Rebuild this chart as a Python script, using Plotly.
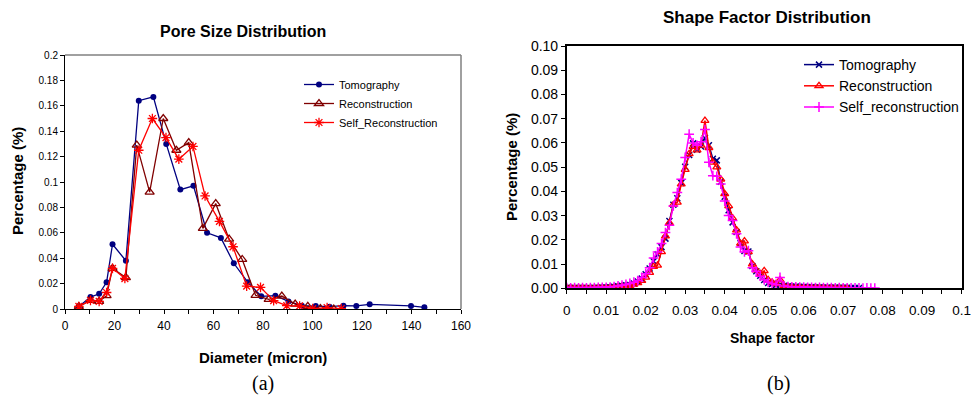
import plotly.graph_objects as go

# ---------------- Left chart: Pore Size Distribution ----------------
tomo_d = [5.6, 10.3, 13.8, 16.8, 19.2, 24.6, 29.8, 35.7, 40.9, 46.6, 51.9, 57.4, 63.0,
          68.2, 73.9, 79.3, 85.0, 90.3, 95.7, 101.3, 106.9, 112.5, 117.7, 123.1, 139.8, 145.2]
tomo_p = [0.002, 0.0094, 0.012, 0.021, 0.051, 0.038, 0.164, 0.167, 0.130, 0.094, 0.097, 0.060, 0.056,
          0.036, 0.021, 0.010, 0.0105, 0.006, 0.0026, 0.0024, 0.0018, 0.0026, 0.0024, 0.0037, 0.0024, 0.0013]

recon_d = [5.6, 10.3, 13.8, 16.8, 19.2, 24.6, 29.0, 34.2, 39.7, 45.0, 50.0, 55.7, 60.9,
           66.3, 71.6, 77.0, 82.3, 87.6, 93.0, 98.1, 103.2, 108.6]
recon_p = [0.002, 0.0068, 0.006, 0.0105, 0.032, 0.0247, 0.129, 0.092, 0.150, 0.125, 0.131, 0.0635, 0.083,
           0.055, 0.039, 0.0108, 0.0076, 0.0102, 0.0039, 0.0021, 0.0003, 0.0]

self_d = [5.6, 10.3, 13.8, 16.8, 19.2, 24.2, 29.8, 35.3, 40.8, 46.0, 51.7, 56.6, 62.4,
          67.9, 73.4, 79.0, 84.3, 89.6, 94.8, 100.1, 105.9, 111.6]
self_p = [0.002, 0.0068, 0.006, 0.013, 0.032, 0.024, 0.125, 0.150, 0.135, 0.118, 0.128, 0.089, 0.069,
          0.049, 0.018, 0.017, 0.0066, 0.0026, 0.0024, 0.0003, 0.0011, 0.0003]

# ---------------- Right chart: Shape Factor Distribution ----------------
sf_tomo = [0.000, 0.001, 0.002, 0.003, 0.004, 0.005, 0.006, 0.007, 0.008, 0.009,
           0.010, 0.011, 0.012, 0.013, 0.014, 0.015, 0.016, 0.017, 0.018, 0.019,
           0.020, 0.021, 0.022, 0.023, 0.024, 0.025, 0.026, 0.027, 0.028, 0.029,
           0.030, 0.031, 0.032, 0.033, 0.034, 0.035, 0.036, 0.037, 0.038, 0.039,
           0.040, 0.041, 0.042, 0.043, 0.044, 0.045, 0.046, 0.047, 0.048, 0.049,
           0.050, 0.051, 0.052, 0.053, 0.054, 0.055, 0.056, 0.057, 0.058, 0.059,
           0.060, 0.061, 0.062, 0.063, 0.064, 0.065, 0.066, 0.067, 0.068, 0.069,
           0.070, 0.071, 0.072, 0.073, 0.074]
pct_tomo = [0.0002, 0.0001, 0.0002, 0.0001, 0.0002, 0.0001, 0.0001, 0.0002, 0.0002, 0.0003,
            0.0003, 0.0004, 0.0006, 0.0008, 0.0010, 0.0012, 0.0014, 0.0020, 0.0028, 0.0040,
            0.0058, 0.0082, 0.0112, 0.0140, 0.0170, 0.0205, 0.0278, 0.0345, 0.0372, 0.0435,
            0.0502, 0.0550, 0.0598, 0.0572, 0.0585, 0.0620, 0.0590, 0.0535, 0.0528, 0.0440,
            0.0378, 0.0322, 0.0272, 0.0232, 0.0186, 0.0154, 0.0152, 0.0092, 0.0070, 0.0052,
            0.0034, 0.0022, 0.0018, 0.0014, 0.0016, 0.0010, 0.0008, 0.0006, 0.0007, 0.0005,
            0.0006, 0.0004, 0.0005, 0.0003, 0.0004, 0.0003, 0.0003, 0.0002, 0.0003, 0.0002,
            0.0002, 0.0002, 0.0001, 0.0001, 0.0001]

sf_recon = [0.000, 0.001, 0.002, 0.003, 0.004, 0.005, 0.006, 0.007, 0.008, 0.009,
            0.010, 0.011, 0.012, 0.013, 0.014, 0.015, 0.016, 0.017, 0.018, 0.019,
            0.020, 0.021, 0.022, 0.023, 0.024, 0.025, 0.026, 0.027, 0.028, 0.029,
            0.030, 0.031, 0.032, 0.033, 0.034, 0.035, 0.036, 0.037, 0.038, 0.039,
            0.040, 0.041, 0.042, 0.043, 0.044, 0.045, 0.046, 0.047, 0.048, 0.049,
            0.050, 0.051, 0.052, 0.053, 0.054, 0.055, 0.056, 0.057, 0.058, 0.059,
            0.060, 0.061, 0.062, 0.063, 0.064, 0.065, 0.066, 0.067, 0.068, 0.069,
            0.070, 0.071]
pct_recon = [0.0001, 0.0002, 0.0001, 0.0001, 0.0002, 0.0001, 0.0001, 0.0001, 0.0002, 0.0002,
             0.0002, 0.0003, 0.0004, 0.0006, 0.0008, 0.0009, 0.0011, 0.0016, 0.0022, 0.0032,
             0.0045, 0.0065, 0.0090, 0.0095, 0.0150, 0.0215, 0.0270, 0.0345, 0.0355, 0.0430,
             0.0490, 0.0555, 0.0585, 0.0570, 0.0590, 0.0692, 0.0580, 0.0520, 0.0500, 0.0450,
             0.0390, 0.0340, 0.0290, 0.0240, 0.0185, 0.0195, 0.0150, 0.0100, 0.0075, 0.0060,
             0.0072, 0.0035, 0.0025, 0.0018, 0.0035, 0.0010, 0.0006, 0.0005, 0.0004, 0.0004,
             0.0003, 0.0003, 0.0002, 0.0003, 0.0002, 0.0002, 0.0001, 0.0002, 0.0001, 0.0001,
             0.0001, 0.0001]

sf_self = [0.000, 0.001, 0.002, 0.003, 0.004, 0.005, 0.006, 0.007, 0.008, 0.009,
           0.010, 0.011, 0.012, 0.013, 0.014, 0.015, 0.016, 0.017, 0.018, 0.019,
           0.020, 0.021, 0.022, 0.023, 0.024, 0.025, 0.026, 0.027, 0.028, 0.029,
           0.030, 0.031, 0.032, 0.033, 0.034, 0.035, 0.036, 0.037, 0.038, 0.039,
           0.040, 0.041, 0.042, 0.043, 0.044, 0.045, 0.046, 0.047, 0.048, 0.049,
           0.050, 0.051, 0.052, 0.053, 0.054, 0.055, 0.056, 0.057, 0.058, 0.059,
           0.060, 0.061, 0.062, 0.063, 0.064, 0.065, 0.066, 0.067, 0.068, 0.069,
           0.070, 0.071, 0.072, 0.073, 0.074, 0.075, 0.076, 0.077, 0.078]
pct_self = [0.0003, 0.0002, 0.0003, 0.0002, 0.0003, 0.0002, 0.0003, 0.0003, 0.0004, 0.0004,
            0.0004, 0.0005, 0.0007, 0.0010, 0.0013, 0.0016, 0.0020, 0.0025, 0.0032, 0.0045,
            0.0060, 0.0085, 0.0125, 0.0150, 0.0185, 0.0230, 0.0260, 0.0340, 0.0395, 0.0450,
            0.0540, 0.0636, 0.0600, 0.0590, 0.0605, 0.0655, 0.0520, 0.0465, 0.0462, 0.0430,
            0.0360, 0.0300, 0.0280, 0.0225, 0.0170, 0.0150, 0.0155, 0.0085, 0.0070, 0.0050,
            0.0035, 0.0025, 0.0020, 0.0015, 0.0045, 0.0010, 0.0007, 0.0006, 0.0006, 0.0005,
            0.0005, 0.0004, 0.0004, 0.0003, 0.0004, 0.0003, 0.0003, 0.0003, 0.0002, 0.0003,
            0.0002, 0.0002, 0.0002, 0.0002, 0.0002, 0.0001, 0.0002, 0.0001, 0.0001]

FONT = "Arial, 'Liberation Sans', sans-serif"
NAVY = "#000080"
DARKRED = "#800000"
RED = "#FF0000"
MAGENTA = "#FF00FF"

fig = go.Figure()

# Left traces
fig.add_trace(go.Scatter(x=tomo_d, y=tomo_p, name="Tomography", mode="lines+markers",
                         line=dict(color=NAVY, width=1.3),
                         marker=dict(symbol="circle", size=6, color=NAVY),
                         xaxis="x", yaxis="y", legend="legend"))
fig.add_trace(go.Scatter(x=recon_d, y=recon_p, name="Reconstruction", mode="lines+markers",
                         line=dict(color=DARKRED, width=1.3),
                         marker=dict(symbol="triangle-up-open", size=8, color=DARKRED,
                                     line=dict(width=1.3, color=DARKRED)),
                         xaxis="x", yaxis="y", legend="legend"))
fig.add_trace(go.Scatter(x=self_d, y=self_p, name="Self_Reconstruction", mode="lines+markers",
                         line=dict(color=RED, width=1.3),
                         marker=dict(symbol="asterisk-open", size=8, color=RED,
                                     line=dict(width=1.3, color=RED)),
                         xaxis="x", yaxis="y", legend="legend"))

# Right traces
fig.add_trace(go.Scatter(x=sf_tomo, y=pct_tomo, name="Tomography", mode="lines+markers",
                         line=dict(color=NAVY, width=1.5),
                         marker=dict(symbol="x-thin-open", size=6, color=NAVY,
                                     line=dict(width=1.5, color=NAVY)),
                         xaxis="x2", yaxis="y2", legend="legend2"))
fig.add_trace(go.Scatter(x=sf_recon, y=pct_recon, name="Reconstruction", mode="lines+markers",
                         line=dict(color=RED, width=1.5),
                         marker=dict(symbol="triangle-up-open", size=7, color=RED,
                                     line=dict(width=1.3, color=RED)),
                         xaxis="x2", yaxis="y2", legend="legend2"))
fig.add_trace(go.Scatter(x=sf_self, y=pct_self, name="Self_reconstruction", mode="lines+markers",
                         line=dict(color=MAGENTA, width=1.5),
                         marker=dict(symbol="cross-thin-open", size=7, color=MAGENTA,
                                     line=dict(width=1.5, color=MAGENTA)),
                         xaxis="x2", yaxis="y2", legend="legend2"))

W, H = 977, 397
def px_x(v):
    return v / W
def px_y(v):
    return (H - v) / H

fig.update_layout(
    width=W, height=H,
    margin=dict(l=0, r=0, t=0, b=0, autoexpand=False),
    paper_bgcolor="white", plot_bgcolor="white",
    font=dict(family=FONT, color="black"),
    xaxis=dict(domain=[px_x(65), px_x(461)], range=[0, 160], dtick=20, tick0=0,
               showgrid=False, zeroline=False, showline=True, linecolor="black", linewidth=1,
               ticks="outside", ticklen=4, tickcolor="black", automargin=False,
               minor=dict(dtick=10, ticks="outside", ticklen=4, tickcolor="black"),
               tickfont=dict(size=12), ticklabelstandoff=2, anchor="y"),
    yaxis=dict(domain=[px_y(309), px_y(55)], range=[0, 0.2], dtick=0.02, tick0=0,
               showgrid=False, zeroline=False, showline=True, linecolor="black", linewidth=1,
               ticks="outside", ticklen=4, tickcolor="black", automargin=False,
               tickfont=dict(size=10), anchor="x"),
    xaxis2=dict(domain=[px_x(566.7), px_x(961.7)], range=[0, 0.1], dtick=0.01, tick0=0,
                showgrid=False, zeroline=False, showline=True, mirror=True,
                linecolor="black", linewidth=1.5, automargin=False,
                ticks="outside", ticklen=4, tickcolor="black",
                minor=dict(dtick=0.005, ticks="outside", ticklen=4, tickcolor="black"),
                tickfont=dict(size=13.5), ticklabelstandoff=5, anchor="y2"),
    yaxis2=dict(domain=[px_y(288.3), px_y(46)], range=[0, 0.1], dtick=0.01, tick0=0,
                tickformat=".2f", automargin=False,
                showgrid=False, zeroline=False, showline=True, mirror=True,
                linecolor="black", linewidth=1.5,
                ticks="outside", ticklen=4, tickcolor="black",
                tickfont=dict(size=14), anchor="x2"),
    legend=dict(x=px_x(299), y=px_y(70), xanchor="left", yanchor="top",
                bgcolor="rgba(0,0,0,0)", font=dict(size=11), borderwidth=0),
    legend2=dict(x=px_x(799), y=px_y(49), xanchor="left", yanchor="top",
                 bgcolor="rgba(0,0,0,0)", font=dict(size=14), borderwidth=0),
    showlegend=True,
)

# Gray frame (top/right) of left plot area
fig.add_shape(type="line", xref="x domain", yref="y domain", x0=0, x1=1, y0=1, y1=1,
              line=dict(color="#808080", width=1.5))
fig.add_shape(type="line", xref="x domain", yref="y domain", x0=1, x1=1, y0=0, y1=1,
              line=dict(color="#808080", width=1.5))

annots = [
    ("<b>Pore Size Distribution</b>", 243, 32, 16, FONT, 0),
    ("<b>Shape Factor Distribution</b>", 767, 17, 17, FONT, 0),
    ("<b>Diameter (micron)</b>", 263, 357, 15, FONT, 0),
    ("<b>Shape factor</b>", 772, 338, 14, FONT, 0),
    ("<b>Percentage (%)</b>", 18, 181, 15, FONT, -90),
    ("<b>Percentage (%)</b>", 512, 167, 15, FONT, -90),
    ("(a)", 263, 383, 20, "'Times New Roman', 'Liberation Serif', serif", 0),
    ("(b)", 778, 383, 20, "'Times New Roman', 'Liberation Serif', serif", 0),
]
for text, ax_, ay_, size, fam, rot in annots:
    fig.add_annotation(text=text, x=px_x(ax_), y=px_y(ay_), xref="paper", yref="paper",
                       xanchor="center", yanchor="middle", showarrow=False, textangle=rot,
                       font=dict(size=size, family=fam, color="black"))

fig.write_html("out.html", config={"displayModeBar": False},
               post_script="document.body.style.margin='0';document.body.style.overflow='hidden';")
